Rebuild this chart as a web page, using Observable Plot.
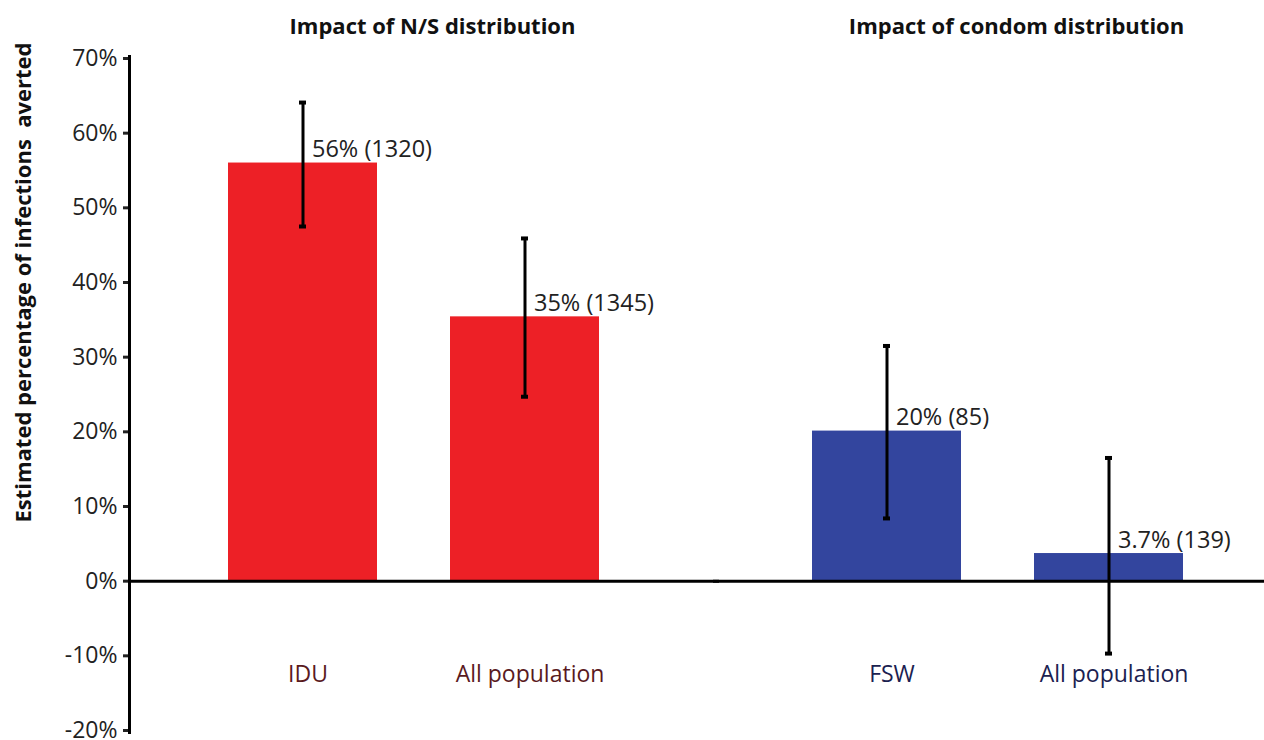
<!DOCTYPE html>
<html><head><meta charset="utf-8">
<script src="https://cdn.jsdelivr.net/npm/d3@7"></script>
<script src="https://cdn.jsdelivr.net/npm/@observablehq/plot@0.6"></script>
<style>body{margin:0;background:#fff} #chart svg{overflow:hidden}</style>
</head><body><div id="chart"></div>
<script>
// ---- data ----
const groups = ["ns", "condom"];
const groupTitles = {ns: "Impact of N/S distribution", condom: "Impact of condom distribution"};
const groupOf = ["ns", "ns", "condom", "condom"];
const populationType = ["Key population", "All population", "Key population", "All population"];
const categoryLabels = ["IDU", "All population", "FSW", "All population"];
const averted = [56, 35.4, 20.1, 3.7];
const lower = [47.5, 24.7, 8.4, -9.7];
const upper = [64.1, 45.9, 31.5, 16.5];
const valueLabels = ["56% (1320)", "35% (1345)", "20% (85)", "3.7% (139)"];
const yTicks = [-20, -10, 0, 10, 20, 30, 40, 50, 60, 70];
const yLabel = "Estimated percentage of infections  averted";

// ---- styles ----
const barColor = {ns: "#ED2026", condom: "#33459E"};
const labelColor = {ns: "#5A1A1E", condom: "#1B2150"};
const font = "Open Sans, Lato, sans-serif";

const data = categoryLabels.map((label, i) => ({
  group: groupOf[i], pop: populationType[i], label,
  value: averted[i], lo: lower[i], hi: upper[i], text: valueLabels[i]
}));

const chart = Plot.plot({
  width: 1264, height: 740,
  marginLeft: 128, marginRight: 0, marginTop: 58, marginBottom: 10,
  style: {fontFamily: font, background: "white", overflow: "hidden"},
  fx: {domain: groups, paddingInner: 0.058, paddingOuter: 0},
  x: {domain: ["Key population", "All population"], paddingInner: 0.327, paddingOuter: 0.399, align: 0.556, axis: null},
  y: {domain: [-20, 70]},
  color: {type: "identity"},
  marks: [
    Plot.barY(data, {fx: "group", x: "pop", y: "value", fill: d => barColor[d.group]}),
    Plot.ruleY([0], {stroke: "#000", strokeWidth: 3, insetRight: -40}),
    Plot.ruleX(data, {fx: "group", x: "pop", y1: "lo", y2: "hi", stroke: "#000", strokeWidth: 3}),
    Plot.tickY(data, {fx: "group", x: "pop", y: "lo", insetLeft: 71, insetRight: 71, stroke: "#000", strokeWidth: 4}),
    Plot.tickY(data, {fx: "group", x: "pop", y: "hi", insetLeft: 71, insetRight: 71, stroke: "#000", strokeWidth: 4}),
    Plot.text(data, {fx: "group", x: "pop", y: "value", text: "text", textAnchor: "start", lineAnchor: "bottom",
      dx: 9, dy: -6, fontSize: 23.5, fill: "#222"}),
    Plot.text(data, {fx: "group", x: "pop", text: "label", frameAnchor: "bottom", dx: 5, dy: -49,
      fill: d => labelColor[d.group], fontSize: 23}),
    Plot.axisY({ticks: yTicks, tickFormat: d => d + "%", tickSize: 6, tickPadding: 6, fontSize: 23,
      label: null, strokeWidth: 3, color: "#222"}),
    Plot.frame({anchor: "left", facetAnchor: "left", stroke: "#000", strokeWidth: 3, insetTop: -2, insetBottom: -2}),
    Plot.axisFx({anchor: "top", tickSize: 0, tickPadding: 25, tickFormat: g => groupTitles[g], fontSize: 22,
      fontWeight: "bold", dx: 28, label: null, color: "#111"}),
    Plot.text([yLabel], {fx: () => groups[0], text: d => d, frameAnchor: "left", textAnchor: "middle", rotate: -90,
      dx: -106, dy: -112, fontWeight: "bold", fontSize: 22, fill: "#111"})
  ]
});
document.getElementById("chart").appendChild(chart);
</script>
</body></html>
